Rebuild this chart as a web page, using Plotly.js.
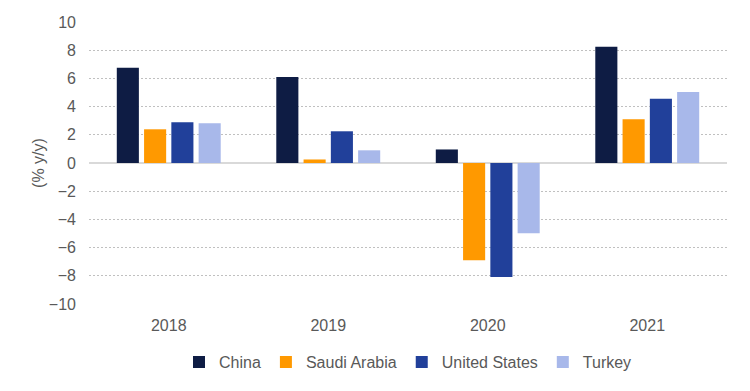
<!DOCTYPE html>
<html>
<head>
<meta charset="utf-8">
<script src="https://cdn.plot.ly/plotly-3.0.1.min.js"></script>
<style>html,body{margin:0;padding:0;background:#fff;}#chart{width:750px;height:391px;}</style>
</head>
<body>
<div id="chart"></div>
<script>
var years = ['2018', '2019', '2020', '2021'];
var seriesNames = ['China', 'Saudi Arabia', 'United States', 'Turkey'];
var china = [6.75, 6.1, 0.96, 8.25];
var saudiArabia = [2.39, 0.25, -6.9, 3.1];
var unitedStates = [2.89, 2.25, -8.08, 4.55];
var turkey = [2.82, 0.9, -4.98, 5.04];
var colors = ['#0e1c44', '#ff9900', '#21409a', '#a8b8ea'];

var values = [china, saudiArabia, unitedStates, turkey];
var traces = seriesNames.map(function (n, i) {
  return {
    type: 'bar', name: n, x: years, y: values[i],
    marker: {color: colors[i]}, hoverinfo: 'x+y+name'
  };
});

var layout = {
  width: 750, height: 391,
  margin: {l: 89, r: 23, t: 22, b: 87, autoexpand: false},
  paper_bgcolor: '#fff', plot_bgcolor: '#fff',
  font: {family: 'Liberation Sans, Arial, sans-serif', size: 16, color: '#595959'},
  barmode: 'group', bargap: 0.316, bargroupgap: 0.19,
  showlegend: true,
  legend: {orientation: 'h', x: 0.5, xanchor: 'center', y: -0.206, yanchor: 'middle',
           font: {size: 16, color: '#595959'}, itemwidth: 30, traceorder: 'normal'},
  xaxis: {type: 'category', showgrid: false, zeroline: false, showline: false, automargin: false,
          ticks: '', ticklabelstandoff: 10,
          tickfont: {size: 16, color: '#595959'}},
  yaxis: {range: [-10, 10], dtick: 2, tick0: 0, showgrid: true, automargin: false,
          gridcolor: '#c0c0c0', griddash: '2px,2px', gridwidth: 1,
          zeroline: true, zerolinecolor: '#d9d9d9', zerolinewidth: 2,
          showline: false, ticks: '', ticklabelstandoff: 12,
          tickfont: {size: 16, color: '#595959'},
          title: {text: '(% y/y)', font: {size: 16, color: '#595959'}, standoff: 0}}
};

Plotly.newPlot('chart', traces, layout, {displayModeBar: false, staticPlot: true});
</script>
</body>
</html>
